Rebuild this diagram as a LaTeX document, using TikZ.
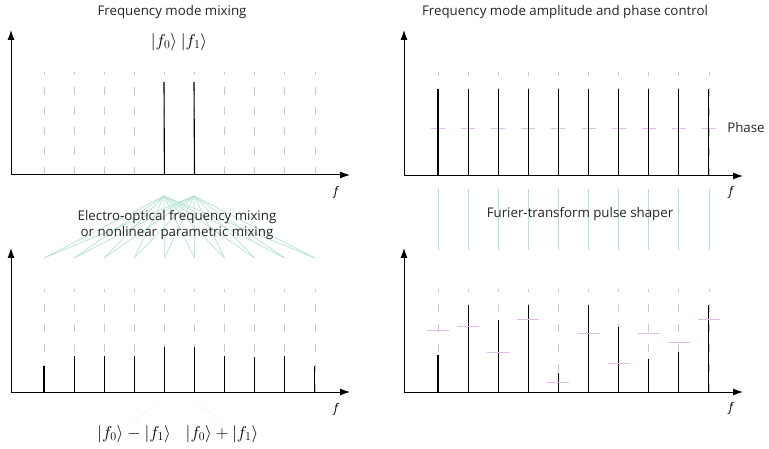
\documentclass[tikz,border=0pt]{standalone}
\usepackage[no-math]{fontspec}
\setmainfont{Open Sans}
\usepackage{amsmath}
\usepackage{tikz}
\usetikzlibrary{arrows.meta}
\definecolor{GridGray}{RGB}{200,200,200}
\definecolor{MixTeal}{RGB}{180,226,212}
\definecolor{PhasePink}{RGB}{222,190,228}
\definecolor{TextGray}{RGB}{35,35,35}

\begin{document}
\begin{tikzpicture}[
    x=1pt, y=-1pt,
    axis/.style={-{Latex[length=10pt,width=7pt]}, line width=1pt},
    gridline/.style={draw=GridGray, line width=0.8pt, dash pattern=on 8pt off 12pt},
    mode/.style={line width=1.1pt},
    phase/.style={draw=PhasePink, line width=0.9pt},
    mix/.style={draw=MixTeal, line width=0.7pt},
    title/.style={font=\fontsize{13.3}{16}\selectfont, text=TextGray, align=center},
    ket/.style={font=\fontsize{16.5}{18}\selectfont},
    flabel/.style={font=\fontsize{12}{14}\selectfont\itshape}
]
\useasboundingbox (0,0) rectangle (769,449);

% top left: frequency mode mixing
\node[title] (t1) at (172,12) {Frequency mode mixing};
\coordinate (oa) at (11,175);
\coordinate (ya) at (11,30);
\coordinate (xa) at (350,175);
\foreach \i in {1,...,10}{
  \coordinate (ab\i) at ({44+30.1*(\i-1)},175);
  \coordinate (ag\i) at ({44+30.1*(\i-1)},72);
  \draw[gridline] (ab\i) -- (ag\i);
}
\coordinate (am5) at (164,82);
\coordinate (am6) at (194,82);
\draw[mode] (ab5) -- (am5);
\draw[mode] (ab6) -- (am6);
\node[ket] (k0) at (164,42) {$|f_0\rangle$};
\node[ket] (k1) at (194,42) {$|f_1\rangle$};
\draw[axis] (oa) -- (ya);
\draw[axis] (oa) -- (xa);
\node[flabel] (fa) at (336,192) {f};

% mixing fan
\coordinate (apex0) at (164,196);
\coordinate (apex1) at (194,196);
\foreach \i in {1,...,10}{
  \coordinate (fan\i) at ({44+30.1*(\i-1)},258);
  \draw[mix] (apex0) -- (fan\i);
  \draw[mix] (apex1) -- (fan\i);
}
\node[title] (t2) at (177,225) {Electro-optical frequency mixing\\or nonlinear parametric mixing};

% bottom left: mixed modes
\coordinate (oc) at (11,392);
\coordinate (yc) at (11,248);
\coordinate (xc) at (350,392);
\foreach \t [count=\i] in {366,356,356,356,347,347,356,357,356,366}{
  \coordinate (cb\i) at ({44+30.1*(\i-1)},392);
  \coordinate (cg\i) at ({44+30.1*(\i-1)},289);
  \coordinate (ct\i) at ({44+30.1*(\i-1)},\t);
  \draw[gridline] (cb\i) -- (cg\i);
  \draw[mode] (cb\i) -- (ct\i);
}
\draw[axis] (oc) -- (yc);
\draw[axis] (oc) -- (xc);
\node[flabel] (fc) at (336,409) {f};
\node[ket] (kdiff) at (134,434) {$|f_0\rangle-|f_1\rangle$};
\node[ket] (ksum) at (222,434) {$|f_0\rangle+|f_1\rangle$};
\draw[draw=MixTeal!35, line width=0.5pt] (158,402) -- (kdiff.north);
\draw[draw=MixTeal!35, line width=0.5pt] (195,402) -- (ksum.north);

% top right: amplitude and phase control
\node[title] (t3) at (565,12) {Frequency mode amplitude and phase control};
\coordinate (ob) at (404,176);
\coordinate (yb) at (404,30);
\coordinate (xb) at (743,176);
\foreach \i in {1,...,10}{
  \coordinate (bb\i) at ({438+30.1*(\i-1)},176);
  \coordinate (bg\i) at ({438+30.1*(\i-1)},72);
  \coordinate (bt\i) at ({438+30.1*(\i-1)},89);
  \draw[gridline] (bb\i) -- (bg\i);
  \draw[phase] ([xshift=-7pt]bb\i |- 0,128) -- ([xshift=7pt]bb\i |- 0,128);
  \draw[mode] (bb\i) -- (bt\i);
}
\draw[axis] (ob) -- (yb);
\draw[axis] (ob) -- (xb);
\node[flabel] (fb) at (731,192) {f};
\node[title] (ph) at (746,128) {Phase};

% pulse shaper
\foreach \i in {1,...,10}{
  \coordinate (su\i) at ({438+30.1*(\i-1)},189);
  \coordinate (sd\i) at ({438+30.1*(\i-1)},250);
  \draw[mix] (su\i) -- (sd\i);
}
\node[title] (t4) at (580,214) {Furier-transform pulse shaper};

% bottom right: shaped modes
\coordinate (od) at (404,392);
\coordinate (yd) at (404,248);
\coordinate (xd) at (743,392);
\foreach \t/\p [count=\i] in {355/330,305/326,320/352,305/319,373/382,305/333,327/363,359/333,352/342,305/319}{
  \coordinate (db\i) at ({438+30.1*(\i-1)},392);
  \coordinate (dg\i) at ({438+30.1*(\i-1)},289);
  \coordinate (dt\i) at ({438+30.1*(\i-1)},\t);
  \draw[gridline] (db\i) -- (dg\i);
  \draw[mode] (db\i) -- (dt\i);
  \draw[phase] ([xshift=-11pt]db\i |- 0,\p) -- ([xshift=11pt]db\i |- 0,\p);
}
\draw[axis] (od) -- (yd);
\draw[axis] (od) -- (xd);
\node[flabel] (fd) at (731,408) {f};
\end{tikzpicture}
\end{document}
